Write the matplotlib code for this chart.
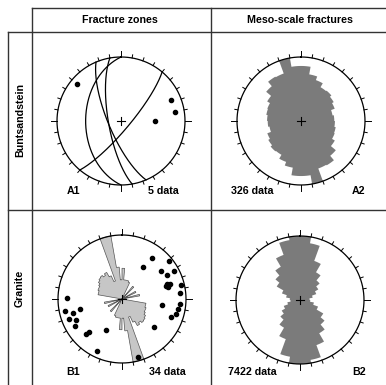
import numpy as np
import matplotlib.pyplot as plt
from matplotlib.lines import Line2D

plt.rcParams['font.family'] = ['Liberation Sans', 'DejaVu Sans']

W, H = 386, 385

# A1: fracture zones in Buntsandstein (dip direction, dip)
a1_dipdir = [130, 247, 260, 270]
a1_dip = [79, 74, 74, 44]

# rose diagrams (bidirectional, 0-180 deg), length relative to net radius
# A2 and B2: 10 deg bins, B1: 5 deg bins
a2_len = [0.86, 0.74, 0.68, 0.61, 0.62, 0.59, 0.56, 0.50, 0.52,
          0.53, 0.55, 0.56, 0.61, 0.71, 0.80, 0.79, 1.00, 0.86]
b2_len = [1.00, 0.90, 0.65, 0.50, 0.40, 0.33, 0.27, 0.20, 0.15,
          0.16, 0.22, 0.30, 0.42, 0.50, 0.60, 0.75, 0.95, 1.00]
b1_len = [0.48, 0.30, 0.30, 0.30, 0.28, 0.05, 0.00, 0.00, 0.26, 0.00,
          0.00, 0.00, 0.24, 0.00, 0.00, 0.28, 0.00, 0.00, 0.00, 0.00,
          0.38, 0.38, 0.40, 0.40, 0.42, 0.45, 0.47, 0.48, 0.45, 0.48,
          0.40, 0.30, 1.00, 1.00, 0.50, 0.30]

# B1: fracture zone poles in granite (trend, plunge)
b1_trend = [36, 51, 33, 54, 62, 71, 73, 75, 74, 77, 98, 95, 100, 106, 110,
            132, 165, 207, 225, 226, 206, 271, 256, 258, 254, 249, 246, 240, 62, 84]
b1_plunge = [21, 6, 40, 26, 8, 27, 23, 26, 29, 6, 37, 10, 12, 14, 20,
             34, 7, 45, 27, 23, 11, 15, 33, 9, 22, 12, 22, 16, 21, 10]


def schmidt(trend, plunge):
    t = np.radians(trend)
    p = np.radians(plunge)
    r = np.sqrt(2) * np.sin((np.pi / 2 - p) / 2)
    return r * np.sin(t), r * np.cos(t)


def great_circle(dipdir, dip):
    dd, d = np.radians(dipdir), np.radians(dip)
    s = dd - np.pi / 2
    t = np.linspace(0, np.pi, 181)
    sv = np.array([np.sin(s), np.cos(s), 0.0])
    dv = np.array([np.cos(d) * np.sin(dd), np.cos(d) * np.cos(dd), -np.sin(d)])
    v = np.outer(np.cos(t), sv) + np.outer(np.sin(t), dv)
    plunge = np.degrees(np.arcsin(np.clip(-v[:, 2], -1, 1)))
    trend = np.degrees(np.arctan2(v[:, 0], v[:, 1]))
    return schmidt(trend, plunge)


def rose(ax, lengths, color, edge):
    w = 180 / len(lengths)
    xs, ys = [], []
    for half in (0, 180):
        for i, L in enumerate(lengths):
            L = min(L, 1.0)
            az = np.radians(np.linspace(i * w + half, (i + 1) * w + half, 6))
            xs += list(L * np.sin(az))
            ys += list(L * np.cos(az))
    ax.fill(xs, ys, facecolor=color, edgecolor=edge, lw=0.5, zorder=1)


fig = plt.figure(figsize=(W / 100, H / 100), dpi=100)


def net_axes(cx, cy):
    half = 86.4
    ax = fig.add_axes([(cx - half) / W, 1 - (cy + half) / H, 2 * half / W, 2 * half / H])
    ax.set_xlim(-1.35, 1.35)
    ax.set_ylim(-1.35, 1.35)
    ax.axis('off')
    # primitive circle, ticks and centre cross
    th = np.linspace(0, 2 * np.pi, 361)
    ax.plot(np.sin(th), np.cos(th), color='k', lw=0.9, zorder=3)
    for az in range(0, 360, 10):
        L = 0.1 if az % 90 == 0 else 0.05
        a = np.radians(az)
        ax.plot([np.sin(a), (1 + L) * np.sin(a)], [np.cos(a), (1 + L) * np.cos(a)],
                color='k', lw=0.7, zorder=3)
    ax.plot([-0.06, 0.06], [0, 0], color='k', lw=0.8, zorder=4)
    ax.plot([0, 0], [-0.06, 0.06], color='k', lw=0.8, zorder=4)
    return ax


# A1
ax = net_axes(121, 121)
for dd, d in zip(a1_dipdir, a1_dip):
    x, y = great_circle(dd, d)
    ax.plot(x, y, color='k', lw=0.9, zorder=2)
px, py = schmidt(np.array(a1_dipdir) + 180, 90 - np.array(a1_dip))
ax.plot(px, py, 'o', color='k', ms=3, zorder=3)

# A2
ax = net_axes(301, 121)
rose(ax, a2_len, '#7b7b7b', 'none')

# B1
ax = net_axes(122, 299)
rose(ax, b1_len, '#c6c6c6', '#555555')
px, py = schmidt(b1_trend, b1_plunge)
ax.plot(px, py, 'o', color='k', ms=3, zorder=3)

# B2
ax = net_axes(300, 300)
rose(ax, b2_len, '#7b7b7b', 'none')

# table frame
lc = '#333333'
for x0, y0, x1, y1 in [(31.5, 8, W, 8), (7.5, 31.5, W, 31.5), (7.5, 210, W, 210),
                       (7.5, 31.5, 7.5, H), (31.5, 8, 31.5, H), (211, 8, 211, H)]:
    fig.add_artist(Line2D([x0 / W, x1 / W], [1 - y0 / H, 1 - y1 / H],
                          transform=fig.transFigure, color=lc, lw=1.0))

fs = 7.7
def label(x, y, s, **kw):
    fig.text(x / W, 1 - y / H, s, ha='center', va='center', fontsize=fs,
             fontweight='bold', **kw)

label(120, 20, 'Fracture zones')
label(300, 20, 'Meso-scale fractures')
label(20, 120, 'Buntsandstein', rotation=90)
label(20, 288, 'Granite', rotation=90)
label(73, 191, 'A1')
label(163.5, 191, '5 data')
label(252.5, 191, '326 data')
label(358, 191, 'A2')
label(73, 372, 'B1')
label(167, 372, '34 data')
label(252.5, 372, '7422 data')
label(359, 372, 'B2')

fig.savefig('out.png', dpi=100)
